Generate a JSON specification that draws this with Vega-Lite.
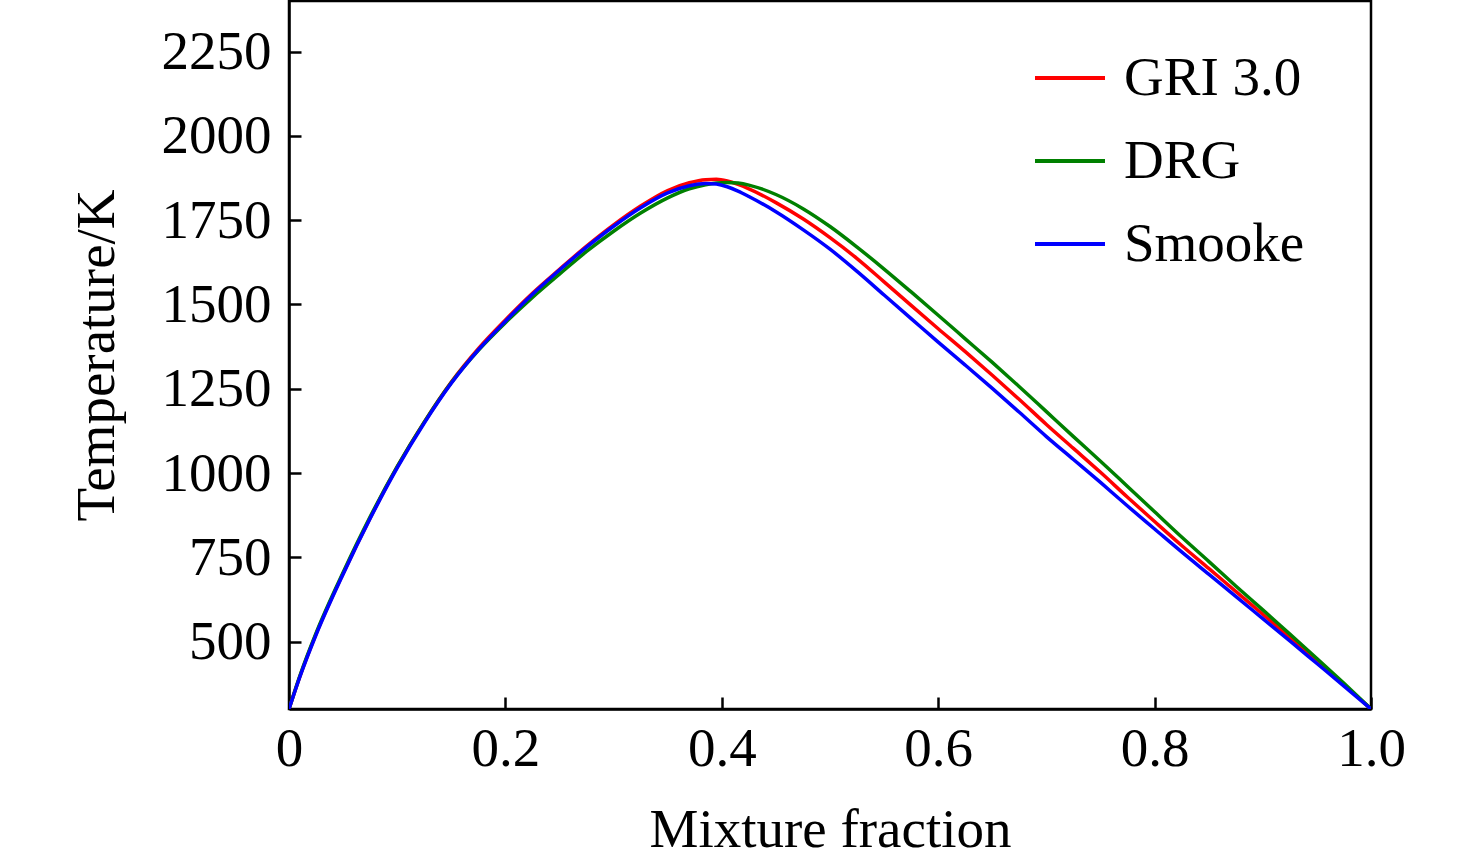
{
  "$schema": "https://vega.github.io/schema/vega-lite/v6.json",
  "description": "Temperature vs mixture fraction for three mechanisms.",
  "autosize": {"type": "none"},
  "padding": {"left": 289, "top": 1, "right": 105, "bottom": 156},
  "width": 1082,
  "height": 708,
  "background": "white",
  "data": {
    "values": [
      {"mechanism": "GRI 3.0", "fraction": 0, "temperature": 300},
      {"mechanism": "GRI 3.0", "fraction": 0.01, "temperature": 396},
      {"mechanism": "GRI 3.0", "fraction": 0.025, "temperature": 522},
      {"mechanism": "GRI 3.0", "fraction": 0.05, "temperature": 702},
      {"mechanism": "GRI 3.0", "fraction": 0.075, "temperature": 867},
      {"mechanism": "GRI 3.0", "fraction": 0.1, "temperature": 1018},
      {"mechanism": "GRI 3.0", "fraction": 0.125, "temperature": 1151},
      {"mechanism": "GRI 3.0", "fraction": 0.15, "temperature": 1270},
      {"mechanism": "GRI 3.0", "fraction": 0.175, "temperature": 1369},
      {"mechanism": "GRI 3.0", "fraction": 0.2, "temperature": 1454},
      {"mechanism": "GRI 3.0", "fraction": 0.225, "temperature": 1533},
      {"mechanism": "GRI 3.0", "fraction": 0.25, "temperature": 1604},
      {"mechanism": "GRI 3.0", "fraction": 0.275, "temperature": 1673},
      {"mechanism": "GRI 3.0", "fraction": 0.3, "temperature": 1736},
      {"mechanism": "GRI 3.0", "fraction": 0.325, "temperature": 1792},
      {"mechanism": "GRI 3.0", "fraction": 0.35, "temperature": 1838},
      {"mechanism": "GRI 3.0", "fraction": 0.37, "temperature": 1861},
      {"mechanism": "GRI 3.0", "fraction": 0.385, "temperature": 1870},
      {"mechanism": "GRI 3.0", "fraction": 0.395, "temperature": 1871},
      {"mechanism": "GRI 3.0", "fraction": 0.405, "temperature": 1866},
      {"mechanism": "GRI 3.0", "fraction": 0.415, "temperature": 1856},
      {"mechanism": "GRI 3.0", "fraction": 0.425, "temperature": 1843},
      {"mechanism": "GRI 3.0", "fraction": 0.45, "temperature": 1802},
      {"mechanism": "GRI 3.0", "fraction": 0.475, "temperature": 1754},
      {"mechanism": "GRI 3.0", "fraction": 0.5, "temperature": 1698},
      {"mechanism": "GRI 3.0", "fraction": 0.525, "temperature": 1636},
      {"mechanism": "GRI 3.0", "fraction": 0.55, "temperature": 1567},
      {"mechanism": "GRI 3.0", "fraction": 0.575, "temperature": 1497},
      {"mechanism": "GRI 3.0", "fraction": 0.6, "temperature": 1428},
      {"mechanism": "GRI 3.0", "fraction": 0.625, "temperature": 1360},
      {"mechanism": "GRI 3.0", "fraction": 0.65, "temperature": 1290},
      {"mechanism": "GRI 3.0", "fraction": 0.675, "temperature": 1218},
      {"mechanism": "GRI 3.0", "fraction": 0.7, "temperature": 1144},
      {"mechanism": "GRI 3.0", "fraction": 0.725, "temperature": 1073},
      {"mechanism": "GRI 3.0", "fraction": 0.75, "temperature": 1002},
      {"mechanism": "GRI 3.0", "fraction": 0.775, "temperature": 928},
      {"mechanism": "GRI 3.0", "fraction": 0.8, "temperature": 856},
      {"mechanism": "GRI 3.0", "fraction": 0.825, "temperature": 785},
      {"mechanism": "GRI 3.0", "fraction": 0.85, "temperature": 717},
      {"mechanism": "GRI 3.0", "fraction": 0.875, "temperature": 649},
      {"mechanism": "GRI 3.0", "fraction": 0.9, "temperature": 581},
      {"mechanism": "GRI 3.0", "fraction": 0.925, "temperature": 513},
      {"mechanism": "GRI 3.0", "fraction": 0.95, "temperature": 443},
      {"mechanism": "GRI 3.0", "fraction": 0.975, "temperature": 372},
      {"mechanism": "GRI 3.0", "fraction": 1.0, "temperature": 300},
      {"mechanism": "DRG", "fraction": 0, "temperature": 300},
      {"mechanism": "DRG", "fraction": 0.01, "temperature": 398},
      {"mechanism": "DRG", "fraction": 0.025, "temperature": 525},
      {"mechanism": "DRG", "fraction": 0.05, "temperature": 705},
      {"mechanism": "DRG", "fraction": 0.075, "temperature": 870},
      {"mechanism": "DRG", "fraction": 0.1, "temperature": 1019},
      {"mechanism": "DRG", "fraction": 0.125, "temperature": 1151},
      {"mechanism": "DRG", "fraction": 0.15, "temperature": 1268},
      {"mechanism": "DRG", "fraction": 0.175, "temperature": 1364},
      {"mechanism": "DRG", "fraction": 0.2, "temperature": 1446},
      {"mechanism": "DRG", "fraction": 0.225, "temperature": 1521},
      {"mechanism": "DRG", "fraction": 0.25, "temperature": 1590},
      {"mechanism": "DRG", "fraction": 0.275, "temperature": 1657},
      {"mechanism": "DRG", "fraction": 0.3, "temperature": 1717},
      {"mechanism": "DRG", "fraction": 0.325, "temperature": 1771},
      {"mechanism": "DRG", "fraction": 0.35, "temperature": 1816},
      {"mechanism": "DRG", "fraction": 0.37, "temperature": 1843},
      {"mechanism": "DRG", "fraction": 0.385, "temperature": 1855},
      {"mechanism": "DRG", "fraction": 0.395, "temperature": 1860},
      {"mechanism": "DRG", "fraction": 0.405, "temperature": 1862},
      {"mechanism": "DRG", "fraction": 0.415, "temperature": 1860},
      {"mechanism": "DRG", "fraction": 0.425, "temperature": 1854},
      {"mechanism": "DRG", "fraction": 0.45, "temperature": 1826},
      {"mechanism": "DRG", "fraction": 0.475, "temperature": 1784},
      {"mechanism": "DRG", "fraction": 0.5, "temperature": 1731},
      {"mechanism": "DRG", "fraction": 0.525, "temperature": 1670},
      {"mechanism": "DRG", "fraction": 0.55, "temperature": 1605},
      {"mechanism": "DRG", "fraction": 0.575, "temperature": 1537},
      {"mechanism": "DRG", "fraction": 0.6, "temperature": 1468},
      {"mechanism": "DRG", "fraction": 0.625, "temperature": 1398},
      {"mechanism": "DRG", "fraction": 0.65, "temperature": 1328},
      {"mechanism": "DRG", "fraction": 0.675, "temperature": 1256},
      {"mechanism": "DRG", "fraction": 0.7, "temperature": 1182},
      {"mechanism": "DRG", "fraction": 0.725, "temperature": 1108},
      {"mechanism": "DRG", "fraction": 0.75, "temperature": 1035},
      {"mechanism": "DRG", "fraction": 0.775, "temperature": 960},
      {"mechanism": "DRG", "fraction": 0.8, "temperature": 885},
      {"mechanism": "DRG", "fraction": 0.825, "temperature": 810},
      {"mechanism": "DRG", "fraction": 0.85, "temperature": 738},
      {"mechanism": "DRG", "fraction": 0.875, "temperature": 665},
      {"mechanism": "DRG", "fraction": 0.9, "temperature": 594},
      {"mechanism": "DRG", "fraction": 0.925, "temperature": 522},
      {"mechanism": "DRG", "fraction": 0.95, "temperature": 450},
      {"mechanism": "DRG", "fraction": 0.975, "temperature": 376},
      {"mechanism": "DRG", "fraction": 1.0, "temperature": 300},
      {"mechanism": "Smooke", "fraction": 0, "temperature": 300},
      {"mechanism": "Smooke", "fraction": 0.01, "temperature": 395},
      {"mechanism": "Smooke", "fraction": 0.025, "temperature": 520},
      {"mechanism": "Smooke", "fraction": 0.05, "temperature": 700},
      {"mechanism": "Smooke", "fraction": 0.075, "temperature": 865},
      {"mechanism": "Smooke", "fraction": 0.1, "temperature": 1015},
      {"mechanism": "Smooke", "fraction": 0.125, "temperature": 1148},
      {"mechanism": "Smooke", "fraction": 0.15, "temperature": 1266},
      {"mechanism": "Smooke", "fraction": 0.175, "temperature": 1365},
      {"mechanism": "Smooke", "fraction": 0.2, "temperature": 1450},
      {"mechanism": "Smooke", "fraction": 0.225, "temperature": 1530},
      {"mechanism": "Smooke", "fraction": 0.25, "temperature": 1602},
      {"mechanism": "Smooke", "fraction": 0.275, "temperature": 1670},
      {"mechanism": "Smooke", "fraction": 0.3, "temperature": 1732},
      {"mechanism": "Smooke", "fraction": 0.325, "temperature": 1787},
      {"mechanism": "Smooke", "fraction": 0.35, "temperature": 1831},
      {"mechanism": "Smooke", "fraction": 0.37, "temperature": 1852},
      {"mechanism": "Smooke", "fraction": 0.385, "temperature": 1859},
      {"mechanism": "Smooke", "fraction": 0.395, "temperature": 1857},
      {"mechanism": "Smooke", "fraction": 0.405, "temperature": 1849},
      {"mechanism": "Smooke", "fraction": 0.415, "temperature": 1836},
      {"mechanism": "Smooke", "fraction": 0.425, "temperature": 1820},
      {"mechanism": "Smooke", "fraction": 0.45, "temperature": 1775},
      {"mechanism": "Smooke", "fraction": 0.475, "temperature": 1722},
      {"mechanism": "Smooke", "fraction": 0.5, "temperature": 1664},
      {"mechanism": "Smooke", "fraction": 0.525, "temperature": 1598},
      {"mechanism": "Smooke", "fraction": 0.55, "temperature": 1528},
      {"mechanism": "Smooke", "fraction": 0.575, "temperature": 1458},
      {"mechanism": "Smooke", "fraction": 0.6, "temperature": 1388},
      {"mechanism": "Smooke", "fraction": 0.625, "temperature": 1320},
      {"mechanism": "Smooke", "fraction": 0.65, "temperature": 1251},
      {"mechanism": "Smooke", "fraction": 0.675, "temperature": 1180},
      {"mechanism": "Smooke", "fraction": 0.7, "temperature": 1108},
      {"mechanism": "Smooke", "fraction": 0.725, "temperature": 1040},
      {"mechanism": "Smooke", "fraction": 0.75, "temperature": 972},
      {"mechanism": "Smooke", "fraction": 0.775, "temperature": 902},
      {"mechanism": "Smooke", "fraction": 0.8, "temperature": 834},
      {"mechanism": "Smooke", "fraction": 0.825, "temperature": 766},
      {"mechanism": "Smooke", "fraction": 0.85, "temperature": 700},
      {"mechanism": "Smooke", "fraction": 0.875, "temperature": 634},
      {"mechanism": "Smooke", "fraction": 0.9, "temperature": 568},
      {"mechanism": "Smooke", "fraction": 0.925, "temperature": 502},
      {"mechanism": "Smooke", "fraction": 0.95, "temperature": 435},
      {"mechanism": "Smooke", "fraction": 0.975, "temperature": 368},
      {"mechanism": "Smooke", "fraction": 1.0, "temperature": 300}
    ]
  },
  "mark": {"type": "line", "strokeWidth": 3.5, "interpolate": "monotone", "clip": true},
  "encoding": {
    "x": {
      "field": "fraction",
      "type": "quantitative",
      "scale": {"domain": [0, 1], "nice": false, "zero": false},
      "axis": {
        "title": "Mixture fraction",
        "values": [0, 0.2, 0.4, 0.6, 0.8, 1.0],
        "labelExpr": "datum.value == 0 ? '0' : format(datum.value, '.1f')",
        "labelPadding": 25,
        "titleY": 137,
        "titleBaseline": "alphabetic"
      }
    },
    "y": {
      "field": "temperature",
      "type": "quantitative",
      "scale": {"domain": [300, 2400], "nice": false, "zero": false},
      "axis": {
        "title": "Temperature/K",
        "values": [500, 750, 1000, 1250, 1500, 1750, 2000, 2250],
        "format": "d",
        "labelPadding": 30,
        "titleAngle": -90,
        "titleX": -176,
        "titleY": 354,
        "titleAlign": "center",
        "titleBaseline": "alphabetic"
      }
    },
    "color": {
      "field": "mechanism",
      "type": "nominal",
      "scale": {
        "domain": ["GRI 3.0", "DRG", "Smooke"],
        "range": ["#ff0000", "#008000", "#0000ff"]
      },
      "legend": {
        "title": null,
        "orient": "none",
        "legendX": 744,
        "legendY": 40,
        "symbolType": "stroke",
        "symbolSize": 4900,
        "symbolStrokeWidth": 4,
        "labelOffset": 17,
        "rowPadding": 18,
        "padding": 0
      }
    }
  },
  "config": {
    "font": "Liberation Serif",
    "view": {"stroke": "black", "strokeWidth": 2.5},
    "axis": {
      "grid": false,
      "domainColor": "black",
      "domainWidth": 2.5,
      "tickColor": "black",
      "tickWidth": 2.5,
      "tickSize": -12,
      "labelFont": "Liberation Serif",
      "labelFontSize": 55,
      "labelColor": "black",
      "labelBound": false,
      "labelFlush": false,
      "labelOverlap": false,
      "titleFont": "Liberation Serif",
      "titleFontSize": 55,
      "titleFontWeight": "normal",
      "titleColor": "black"
    },
    "legend": {
      "labelFont": "Liberation Serif",
      "labelFontSize": 55,
      "labelColor": "black",
      "labelLimit": 400
    }
  }
}
